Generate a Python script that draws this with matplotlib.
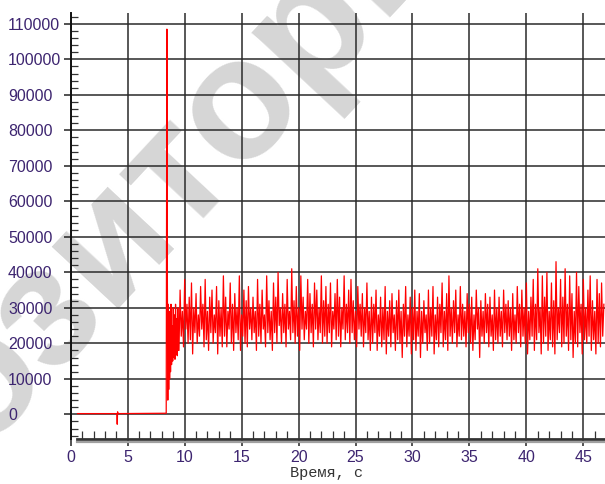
import numpy as np
import matplotlib
matplotlib.use('Agg')
import matplotlib.pyplot as plt
from matplotlib.lines import Line2D
from matplotlib.ticker import MultipleLocator

plt.rcParams['font.family'] = ['Liberation Sans', 'DejaVu Sans']

# start of record: flat baseline, small dip, then the big spike
start_time = [0.6, 4.05, 4.08, 4.11, 4.15, 8.38, 8.44, 8.48, 8.52,
              8.56, 8.60, 8.64, 8.68, 8.72, 8.76, 8.80, 8.85,
              8.90, 8.95, 9.00, 9.05, 9.10, 9.15, 9.20, 9.25,
              9.30, 9.35, 9.40, 9.45]
start_value = [200, 200, -2800, 700, 200, 300, 108500, 40000, 4000,
               31000, 7000, 29000, 10000, 27000, 12000, 31000, 14000,
               25000, 15000, 30000, 16000, 28000, 15500, 31000, 17000,
               27000, 16500, 30000, 18000]

# steady part from 9.5 s, one row per second (thousands)
low_kilo = [
    18, 22, 19, 24, 20,  21, 17, 23, 20, 22,  24, 19, 21, 18, 23,
    20, 23, 17, 22, 19,  22, 19, 24, 20, 18,  23, 21, 18, 22, 20,
    19, 24, 21, 23, 18,  22, 20, 24, 19, 23,  21, 18, 23, 20, 25,
    20, 23, 19, 24, 21,  23, 20, 22, 18, 24,  21, 24, 20, 23, 19,
    24, 21, 23, 20, 22,  20, 23, 19, 24, 21,  22, 19, 24, 21, 23,
    20, 23, 21, 19, 24,  22, 19, 23, 21, 18,  20, 23, 18, 22, 19,
    21, 17, 22, 19, 23,  18, 21, 20, 16, 22,  19, 22, 17, 21, 18,
    22, 16, 20, 23, 18,  20, 22, 17, 21, 19,  23, 19, 21, 18, 22,
    20, 23, 19, 22, 21,  22, 19, 23, 20, 18,  21, 24, 16, 22, 20,
    23, 19, 22, 18, 21,  20, 22, 19, 23, 21,  22, 18, 21, 20, 23,
    19, 22, 20, 17, 21,  22, 18, 21, 23, 17,  20, 22, 18, 21, 19,
    17, 21, 23, 19, 20,  22, 18, 21, 16, 20,  19, 23, 17, 21, 20,
    22, 18, 21, 17, 20,  19, 22,
]
peak_kilo = [
    35, 29, 38, 31, 33,  37, 30, 34, 28, 36,  31, 38, 29, 33, 35,
    28, 36, 32, 30, 39,  33, 29, 37, 31, 34,  30, 39, 28, 35, 32,
    36, 30, 33, 29, 38,  31, 35, 28, 39, 32,  29, 37, 33, 40, 30,
    34, 31, 38, 29, 41,  32, 36, 30, 39, 33,  29, 38, 34, 31, 37,
    35, 30, 39, 32, 36,  31, 37, 29, 34, 38,  33, 30, 39, 31, 35,
    38, 32, 29, 36, 31,  34, 30, 37, 29, 33,  31, 35, 28, 33, 30,
    36, 29, 32, 34, 28,  32, 35, 29, 31, 36,  28, 33, 30, 35, 29,
    34, 29, 32, 28, 35,  30, 36, 28, 33, 31,  37, 29, 34, 39, 30,
    32, 35, 28, 36, 31,  29, 34, 31, 33, 28,  35, 30, 32, 29, 34,
    31, 33, 28, 35, 30,  33, 29, 35, 31, 32,  30, 34, 28, 36, 31,
    35, 30, 37, 29, 33,  38, 31, 41, 30, 39,  33, 40, 29, 37, 32,
    43, 30, 38, 33, 41,  31, 39, 34, 29, 40,  36, 31, 38, 30, 35,
    39, 32, 29, 38, 34,  37, 31,
]

y_major = list(range(0, 110001, 10000))
x_major = list(range(0, 46, 5))

label_col = '#3d2570'

# build the signal
n = min(len(low_kilo), len(peak_kilo))
steady = np.empty(2 * n)
steady[0::2] = np.array(low_kilo[:n]) * 1000
steady[1::2] = np.array(peak_kilo[:n]) * 1000
steady_t = 9.5 + 0.1 * np.arange(2 * n)

t = np.concatenate([start_time, steady_t])
v = np.concatenate([start_value, steady])

fig = plt.figure(figsize=(6.05, 4.84), dpi=100)
ax = fig.add_axes([70.75 / 605, 1 - 439.3 / 484, 1 - 70.75 / 605, (439.3 - 12.7) / 484])

# watermark behind everything
ax.text(112 / 605, 1 - 236 / 484, 'Репозиторий', transform=fig.transFigure,
        rotation=47, fontsize=124, fontweight='bold', color='#d6d6d6',
        ha='center', va='center', zorder=0.5, clip_on=False,
        rotation_mode='anchor')

ax.plot(t, v, color='#ff0000', lw=0.9, zorder=3)

ax.set_xlim(0, 46.9)
ax.set_ylim(-7040, 113130)

ax.set_xticks(x_major)
ax.set_yticks(y_major)
ax.xaxis.set_minor_locator(MultipleLocator(1))
ax.yaxis.set_minor_locator(MultipleLocator(2000))

ax.grid(which='major', color='#2a2a2a', lw=1.1)

for s in ['top', 'right']:
    ax.spines[s].set_visible(False)
ax.spines['left'].set_color('#111111')
ax.spines['left'].set_linewidth(1.4)
ax.spines['bottom'].set_color('#333333')
ax.spines['bottom'].set_linewidth(2.0)
ax.spines['bottom'].set_bounds(0.55, 46.9)

ax.tick_params(axis='x', which='major', direction='out', length=5, width=1.1,
               color='#222222', labelsize=11.5, labelcolor=label_col, pad=2.6)
ax.tick_params(axis='x', which='minor', direction='in', length=5.8, width=0.9,
               color='#333333')
ax.tick_params(axis='y', which='major', direction='out', length=5, width=1.1,
               color='#222222', labelsize=11.5, labelcolor=label_col, pad=40.2)
ax.tick_params(axis='y', which='minor', direction='in', length=5, width=0.9,
               color='#333333')
plt.setp(ax.get_yticklabels(), ha='left')

# shadow line under the x axis
fig.add_artist(Line2D([77 / 605, 1], [1 - 442 / 484] * 2, lw=1.6, color='#a0a0a0'))

fig.text(327 / 605, 1 - 473 / 484, 'Время, с', family=['Liberation Mono', 'DejaVu Sans Mono'],
         fontsize=11, color='#333333', ha='center', va='center')

fig.savefig('out.png', dpi=100)
